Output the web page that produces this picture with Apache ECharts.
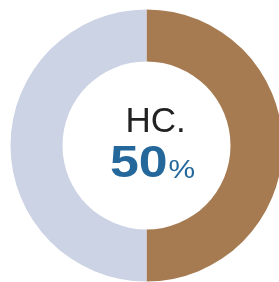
<!DOCTYPE html>
<html>
<head>
<meta charset="utf-8">
<script src="https://cdn.jsdelivr.net/npm/echarts@6/dist/echarts.min.js"></script>
<style>
html,body{margin:0;padding:0;background:#fff;}
#main{width:279px;height:282px;}
</style>
</head>
<body>
<div id="main"></div>
<script>
var names = ['HC.', 'other'];
var values = [50, 50];
var colors = ['#a77b51', '#ccd3e4'];
var label = 'HC.';
var percent = 50;

var chart = echarts.init(document.getElementById('main'), null, {renderer: 'canvas'});

var data = [];
for (var i = 0; i < names.length; i++) {
  data.push({name: names[i], value: values[i], itemStyle: {color: colors[i]}});
}

var option = {
  animation: false,
  series: [{
    type: 'pie',
    center: [146.5, 145.5],
    radius: [84, 136],
    startAngle: 90,
    clockwise: true,
    label: {show: false},
    labelLine: {show: false},
    emphasis: {disabled: true},
    data: data
  }],
  graphic: [{
    type: 'text',
    x: 125.5,
    y: 122,
    style: {
      text: label,
      fill: '#222',
      align: 'left',
      verticalAlign: 'middle',
      fontSize: 35,
      fontFamily: 'Liberation Sans'
    }
  }, {
    type: 'text',
    x: 110,
    y: 164.5,
    scaleX: 1.15,
    style: {
      text: String(percent),
      fill: '#24679b',
      align: 'left',
      verticalAlign: 'middle',
      fontSize: 45,
      fontWeight: 'bold',
      fontFamily: 'Liberation Sans'
    }
  }, {
    type: 'text',
    x: 168.5,
    y: 171,
    scaleX: 1.15,
    style: {
      text: '%',
      fill: '#24679b',
      align: 'left',
      verticalAlign: 'middle',
      fontSize: 26,
      fontFamily: 'Liberation Sans'
    }
  }]
};
chart.setOption(option);
</script>
</body>
</html>
